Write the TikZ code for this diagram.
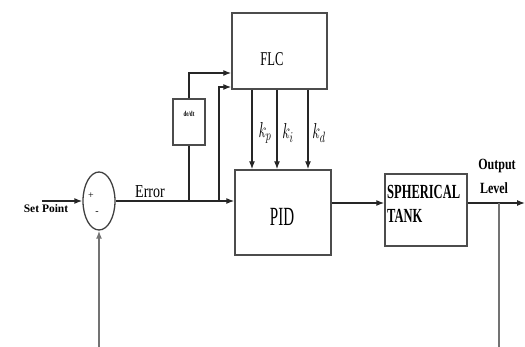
\documentclass[tikz,border=0pt]{standalone}
\usepackage{fontspec}
\setmainfont{Liberation Serif}
\usepackage{graphicx}
\usetikzlibrary{arrows.meta,shapes.geometric}
\begin{document}
\begin{tikzpicture}[x=1pt,y=-1pt,
  ln/.style={line width=1.3pt,draw=black!85},
  arr/.style={ln,-{Latex[length=8pt,width=6pt]}},
  fbl/.style={line width=1.6pt,draw=black!55},
  blk/.style={draw=black!70,line width=1.4pt,rectangle,inner sep=0pt,fill=white},
  lbl/.style={inner sep=0pt,text=black}]
\useasboundingbox (0,0) rectangle (525,347);
% blocks
\node[blk,minimum width=95pt,minimum height=76pt] (flc) at (279.5,51) {};
\node[lbl] (flct) at (272,59) {\fontsize{12.6}{14}\selectfont\scalebox{1}[1.55]{FLC}};
\node[blk,minimum width=96pt,minimum height=85pt] (pid) at (283,212.5) {};
\node[lbl] (pidt) at (282,217) {\fontsize{15}{17}\selectfont\scalebox{1}[1.75]{PID}};
\node[blk,minimum width=82pt,minimum height=72pt] (tank) at (426,210) {};
\node[lbl,anchor=west] (tank1) at (387,192) {\fontsize{12.5}{14}\selectfont\bfseries\scalebox{1}[1.6]{SPHERICAL}};
\node[lbl,anchor=west] (tank2) at (387,216) {\fontsize{12.5}{14}\selectfont\bfseries\scalebox{1}[1.6]{TANK}};
\node[blk,minimum width=32pt,minimum height=46pt] (dd) at (189,122) {};
\node[lbl] (ddt) at (189,114) {\fontsize{5}{6}\selectfont\bfseries\scalebox{1}[1.5]{de/dt}};
\node[draw=black!75,line width=1.3pt,ellipse,minimum width=32pt,minimum height=58pt,inner sep=0pt] (sum) at (99,201) {};
\node[lbl] (plus) at (91,196) {\fontsize{10}{11}\selectfont +};
\node[lbl] (minus) at (97,213) {\fontsize{10}{11}\selectfont -};
% labels
\node[lbl] (spt) at (46,209) {\fontsize{11.5}{13}\selectfont\bfseries Set Point};
\node[lbl] (errt) at (150,192) {\fontsize{14}{16}\selectfont\scalebox{1}[1.3]{Error}};
\node[lbl] (outt) at (497,166) {\fontsize{12}{14}\selectfont\bfseries\scalebox{1}[1.3]{Output}};
\node[lbl] (levt) at (494,188) {\fontsize{12}{14}\selectfont\bfseries\scalebox{1}[1.3]{Level}};
\node[lbl] (kpt) at (265,133) {\fontsize{14}{16}\selectfont\scalebox{1}[1.5]{$k_p$}};
\node[lbl] (kit) at (288,133) {\fontsize{14}{16}\selectfont\scalebox{1}[1.5]{$k_i$}};
\node[lbl] (kdt) at (319,133) {\fontsize{14}{16}\selectfont\scalebox{1}[1.5]{$k_d$}};
% coordinates
\coordinate (sp) at (42,201);
\coordinate (j1) at (189,201);
\coordinate (j2) at (219,201);
\coordinate (f1) at (0,73);
\coordinate (f2) at (0,87);
\coordinate (kp) at (252,0);
\coordinate (ki) at (277,0);
\coordinate (kd) at (308,0);
\coordinate (o) at (0,203);
\coordinate (oend) at (525,203);
\coordinate (fb) at (499,203);
\coordinate (b1) at (499,350);
\coordinate (b2) at (99,350);
% connectors
\draw[arr] (sp) -- (sum.west);
\draw[arr] (sum.east) -- (sum.east -| pid.west);
\draw[ln] (j1) -- (dd.south);
\draw[arr] (dd.north) |- (flc.west |- f1);
\draw[arr] (j2) |- (flc.west |- f2);
\draw[arr] (flc.south -| kp) -- (pid.north -| kp);
\draw[arr] (flc.south -| ki) -- (pid.north -| ki);
\draw[arr] (flc.south -| kd) -- (pid.north -| kd);
\draw[arr] (pid.east |- o) -- (tank.west |- o);
\draw[arr] (tank.east |- o) -- (oend);
\draw[fbl,-{Latex[length=8pt,width=6pt]}] (fb) -- (b1) -- (b2) -- (sum.south);
\end{tikzpicture}
\end{document}
